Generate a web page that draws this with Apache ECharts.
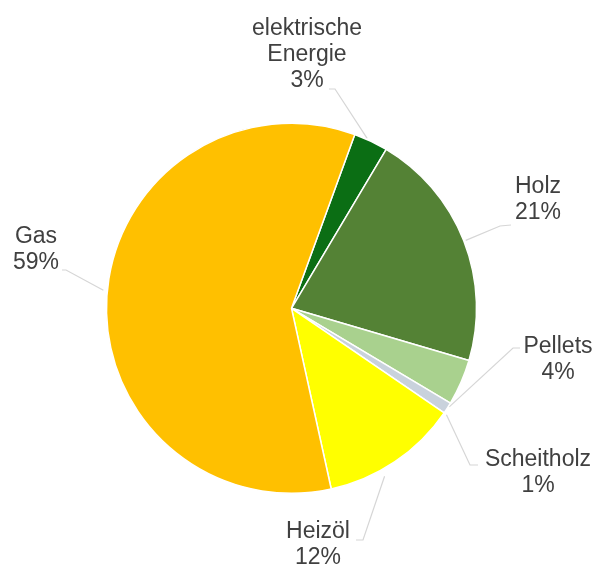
<!DOCTYPE html>
<html>
<head>
<meta charset="utf-8">
<script src="https://cdn.jsdelivr.net/npm/echarts@6/dist/echarts.min.js"></script>
<style>
  html, body { margin: 0; padding: 0; background: #ffffff; }
  #chart { width: 594px; height: 567px; }
</style>
</head>
<body>
<div id="chart"></div>
<script>
// Energieträger und ihre Anteile (in %)
const categories = ['elektrische Energie', 'Holz', 'Pellets', 'Scheitholz', 'Heizöl', 'Gas'];
const shares = [3, 21, 4, 1, 12, 59];
const labelNames = ['elektrische\nEnergie', 'Holz', 'Pellets', 'Scheitholz', 'Heizöl', 'Gas'];
const colors = ['#0b6e14', '#548235', '#a9d18e', '#c9d2dc', '#ffff00', '#ffc000'];

// Pie geometry
const CX = 291.5, CY = 308.3, R = 185;

// Label placement: centre of the text block, leader anchor angle on the rim
// (degrees clockwise from 12 o'clock), bend point and end point of the leader.
const labelPlacement = [
  { x: 307, y: 55,  a: 24,    r: 186, bend: [335, 89],  end: [329, 89] },
  { x: 538, y: 200, a: 68.7,  r: 187, bend: [500, 226], end: [511, 225] },
  { x: 558, y: 360, a: 122,   r: 186, bend: [513, 348], end: [520, 348] },
  { x: 538, y: 473, a: 124.5, r: 188, bend: [470, 465], end: [478, 465] },
  { x: 318, y: 545, a: 151,   r: 192, bend: [363, 540], end: [356, 540] },
  { x: 36,  y: 250, a: 275.5, r: 189, bend: [66, 270],  end: [62, 270] }
];

function rimPoint(angleDeg, r) {
  const t = angleDeg * Math.PI / 180;
  return [CX + r * Math.sin(t), CY - r * Math.cos(t)];
}

const chart = echarts.init(document.getElementById('chart'), null, { renderer: 'canvas' });

chart.setOption({
  backgroundColor: '#ffffff',
  animation: false,
  series: [{
    type: 'pie',
    center: [CX, CY],
    radius: [0, R],
    startAngle: 70,
    clockwise: true,
    avoidLabelOverlap: false,
    data: categories.map((name, i) => ({
      name: name,
      value: shares[i],
      itemStyle: { color: colors[i] }
    })),
    itemStyle: { borderColor: '#ffffff', borderWidth: 1.5 },
    label: {
      show: true,
      position: 'outside',
      formatter: p => labelNames[p.dataIndex] + '\n' + Math.round(p.percent) + '%',
      fontFamily: '"Liberation Sans", Arial, sans-serif',
      fontSize: 23,
      lineHeight: 26,
      color: '#404040',
      align: 'center'
    },
    labelLine: {
      show: true,
      length: 15,
      length2: 10,
      lineStyle: { color: '#d6d6d6', width: 1.2 }
    },
    labelLayout: function (params) {
      const pl = labelPlacement[params.dataIndex];
      return {
        x: pl.x,
        y: pl.y,
        align: 'center',
        verticalAlign: 'middle',
        labelLinePoints: [rimPoint(pl.a, pl.r), pl.bend, pl.end]
      };
    },
    emphasis: { disabled: true }
  }]
});
</script>
</body>
</html>
